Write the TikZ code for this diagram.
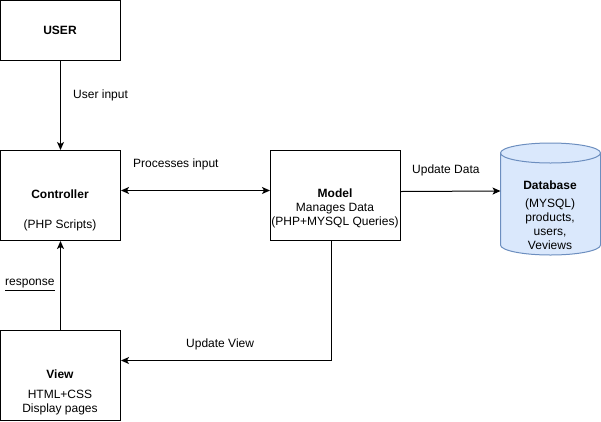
\documentclass[tikz,border=0pt]{standalone}
\usepackage{fontspec}
\setmainfont{Liberation Sans}
\usetikzlibrary{arrows.meta}
\begin{document}
\begin{tikzpicture}[x=1pt,y=-1pt,
  font=\fontsize{12}{14}\selectfont,
  box/.style={draw=black,line width=1pt,inner sep=0pt,minimum width=120pt,minimum height=90pt},
  txt/.style={inner sep=0pt,align=center},
  lbl/.style={inner sep=0pt,anchor=west},
  arr/.style={draw=black,line width=1pt,-{Stealth[length=8pt,width=7pt,inset=2pt]}},
  darr/.style={draw=black,line width=1pt,{Stealth[length=8pt,width=7pt,inset=2pt]}-{Stealth[length=8pt,width=7pt,inset=2pt]}}]
\useasboundingbox (0,0) rectangle (601,421);
% boxes
\node[box,minimum height=60pt] (user) at (60.5,30.5) {};
\node[box] (ctrl) at (60.5,195.5) {};
\node[box,minimum width=130pt] (model) at (335.5,195.5) {};
\node[box] (view) at (60.5,375.5) {};
% database cylinder
\filldraw[fill={rgb,255:red,218;green,232;blue,252},draw={rgb,255:red,108;green,142;blue,191},line width=1pt]
  (500.5,153) -- (500.5,245) arc[start angle=180,end angle=0,x radius=50,y radius=10] -- (600.5,153)
  arc[start angle=0,end angle=-180,x radius=50,y radius=10] -- cycle;
\draw[draw={rgb,255:red,108;green,142;blue,191},line width=1pt]
  (500.5,153) arc[start angle=180,end angle=0,x radius=50,y radius=10];
\coordinate (dbL) at (500.5,191);
% texts
\node[txt] (usert) at (60,30) {\textbf{USER}};
\node[txt] (ctrlt) at (60,194) {\textbf{Controller}};
\node[txt] (ctrls) at (60,225) {(PHP Scripts)};
\node[txt] (modelt) at (335,208) {\textbf{Model}\\Manages Data\\(PHP+MYSQL Queries)};
\node[txt] (dbt) at (550,185) {\textbf{Database}};
\node[txt] (dbs) at (550,224) {(MYSQL)\\products,\\users,\\Veviews};
\node[txt] (viewt) at (60,374) {\textbf{View}};
\node[txt] (views) at (60,403) {HTML+CSS\\Display pages};
% connectors
\draw[arr] (user.south) -- (ctrl.north);
\draw[darr] ([yshift=5pt]ctrl.east) -- ([yshift=5pt]model.west);
\draw[arr] ([yshift=4pt]model.east) -- (dbL);
\draw[arr] ([xshift=-4pt]model.south) |- ([yshift=15pt]view.east);
\draw[arr] (view.north) -- (ctrl.south);
% labels
\node[lbl] (l1) at (73,95) {User input};
\node[lbl] (l2) at (133,164) {Processes input};
\node[lbl] (l3) at (412,170) {Update Data};
\node[lbl] (l4) at (186,344) {Update View};
\node[lbl] (l5) at (5,285) {\underline{response}};
\end{tikzpicture}
\end{document}
